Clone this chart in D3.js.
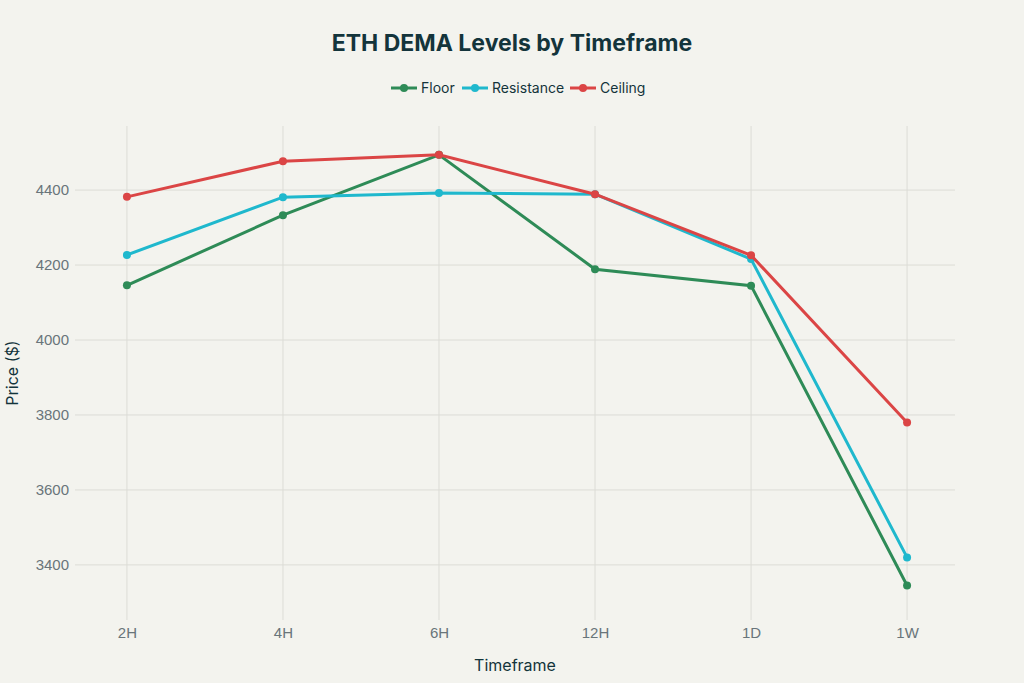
<!DOCTYPE html>
<meta charset="utf-8">
<style>
body { margin: 0; background: #f3f3ee; }
svg { font-family: Inter, "Liberation Sans", sans-serif; }
.grid line { stroke: #dcdcd6; stroke-width: 1; }
.tick text { fill: #69757a; font-size: 15px; }
</style>
<svg width="1024" height="683"></svg>
<script src="https://d3js.org/d3.v7.min.js"></script>
<script>

var timeframes = ["2H", "4H", "6H", "12H", "1D", "1W"];
var floorVals = [4146, 4333, 4494, 4189, 4145, 3345];
var resistanceVals = [4227, 4381, 4392, 4389, 4216, 3420];
var ceilingVals = [4382, 4477, 4494, 4389, 4226, 3780];
var yTicks = [3400, 3600, 3800, 4000, 4200, 4400];

var series = [
  {name: "Floor", values: floorVals, color: "#2e8b57"},
  {name: "Resistance", values: resistanceVals, color: "#1fb8cd"},
  {name: "Ceiling", values: ceilingVals, color: "#db4545"}
];

var svg = d3.select("svg"),
    margin = {top: 126, right: 69, bottom: 63, left: 75},
    width = +svg.attr("width") - margin.left - margin.right,
    height = +svg.attr("height") - margin.top - margin.bottom;

svg.append("rect").attr("width", 1024).attr("height", 683).attr("fill", "#f3f3ee");

var x = d3.scalePoint().domain(timeframes).range([2, width + 2]).padding(0.32);
var y = d3.scaleLinear().domain([3253, 4571]).range([height, 0]);

var g = svg.append("g")
    .attr("transform", "translate(" + margin.left + "," + margin.top + ")");

// grid
g.append("g").attr("class", "grid")
  .selectAll("line").data(yTicks).enter().append("line")
    .attr("x1", 0).attr("x2", width)
    .attr("y1", function(d) { return y(d); })
    .attr("y2", function(d) { return y(d); });

g.append("g").attr("class", "grid")
  .selectAll("line").data(timeframes).enter().append("line")
    .attr("x1", function(d) { return x(d); })
    .attr("x2", function(d) { return x(d); })
    .attr("y1", 0).attr("y2", height);

// axes
var xAxis = g.append("g")
    .attr("transform", "translate(0," + height + ")")
    .call(d3.axisBottom(x).tickSize(0).tickPadding(7));
xAxis.select(".domain").remove();

var yAxis = g.append("g")
    .call(d3.axisLeft(y).tickValues(yTicks).tickFormat(d3.format("d")).tickSize(0).tickPadding(6));
yAxis.select(".domain").remove();

// lines
var line = d3.line()
    .x(function(d, i) { return x(timeframes[i]); })
    .y(function(d) { return y(d); });

series.forEach(function(s) {
  g.append("path")
      .datum(s.values)
      .attr("fill", "none")
      .attr("stroke", s.color)
      .attr("stroke-width", 3)
      .attr("d", line);
  g.selectAll(null)
    .data(s.values)
    .enter().append("circle")
      .attr("cx", function(d, i) { return x(timeframes[i]); })
      .attr("cy", function(d) { return y(d); })
      .attr("r", 4)
      .attr("fill", s.color);
});

// title
svg.append("text")
    .attr("x", 512).attr("y", 51)
    .attr("text-anchor", "middle")
    .attr("font-size", 23).attr("font-weight", "bold")
    .attr("fill", "#13343b")
    .text("ETH DEMA Levels by Timeframe");

// axis titles
svg.append("text")
    .attr("x", margin.left + width / 2).attr("y", 671)
    .attr("text-anchor", "middle")
    .attr("font-size", 16).attr("fill", "#13343b")
    .text("Timeframe");

svg.append("text")
    .attr("transform", "translate(18," + (margin.top + height / 2) + ") rotate(-90)")
    .attr("text-anchor", "middle")
    .attr("font-size", 16).attr("fill", "#13343b")
    .text("Price ($)");

// legend
var legendX = [391, 462, 570];
var legend = svg.append("g");
series.forEach(function(s, i) {
  var lg = legend.append("g").attr("transform", "translate(" + legendX[i] + ",88)");
  lg.append("line").attr("x1", 0).attr("x2", 26).attr("stroke", s.color).attr("stroke-width", 3);
  lg.append("circle").attr("cx", 13).attr("r", 4).attr("fill", s.color);
  lg.append("text").attr("x", 30).attr("dy", "0.35em")
    .attr("font-size", 14).attr("fill", "#13343b").text(s.name);
});

</script>
